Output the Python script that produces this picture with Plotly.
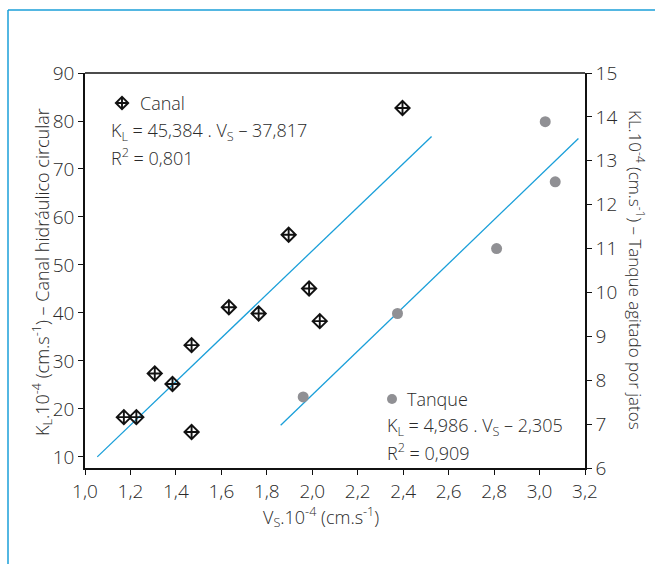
import plotly.graph_objects as go

# Canal hidráulico circular (left axis)
canal_vs = [1.171, 1.226, 1.307, 1.385, 1.469, 1.469, 1.633, 1.764, 1.896, 1.986, 2.033, 2.397]
canal_kl = [18.3, 18.3, 27.4, 25.2, 33.3, 15.2, 41.2, 39.9, 56.3, 45.1, 38.3, 82.7]
# Tanque agitado por jatos (right axis)
tanque_vs = [1.960, 2.375, 2.811, 3.025, 3.069]
tanque_kl = [7.62, 9.52, 11.0, 13.89, 12.52]

# Fit lines (from equations shown on chart)
canal_fit = (45.384, -37.817)
canal_fit_x = [1.054, 2.525]
tanque_fit = (4.986, -2.305)
tanque_fit_x = [1.861, 3.171]

FONT = "Open Sans"
TXT = "#2a2a2a"
BLUE = "#1a9fd9"

fig = go.Figure()
fig.add_trace(go.Scatter(
    x=canal_fit_x, y=[canal_fit[0] * v + canal_fit[1] for v in canal_fit_x],
    mode="lines", line=dict(color=BLUE, width=1.3), showlegend=False, yaxis="y"))
fig.add_trace(go.Scatter(
    x=tanque_fit_x, y=[tanque_fit[0] * v + tanque_fit[1] for v in tanque_fit_x],
    mode="lines", line=dict(color=BLUE, width=1.3), showlegend=False, yaxis="y2"))
fig.add_trace(go.Scatter(
    x=canal_vs, y=canal_kl, mode="markers", name="Canal",
    marker=dict(symbol="diamond-cross-open", size=11, color="#111111",
                line=dict(width=1.9, color="#111111")),
    showlegend=False, yaxis="y"))
fig.add_trace(go.Scatter(
    x=tanque_vs, y=tanque_kl, mode="markers", name="Tanque",
    marker=dict(symbol="circle", size=11, color="#909094"),
    showlegend=False, yaxis="y2"))

L, R, T, B = 85, 70, 73, 96
W, H = 655, 564
pw, ph = W - L - R, H - T - B


def px(xp):
    return (xp - L) / pw


def py(yp):
    return (H - B - yp) / ph


ax_common = dict(
    showgrid=False, zeroline=False, showline=True, linecolor="#111111", linewidth=1.5,
    ticks="outside", ticklen=5, tickwidth=1.2, tickcolor="#111111",
    tickfont=dict(family=FONT, size=19, color=TXT, weight=300),
)

fig.update_layout(
    width=W, height=H,
    margin=dict(l=L, r=R, t=T, b=B),
    paper_bgcolor="white", plot_bgcolor="white",
    font=dict(family=FONT, color=TXT, weight=300),
    xaxis=dict(range=[1.0, 3.2], tickvals=[1.0 + 0.2 * i for i in range(12)],
               ticktext=["1,0", "1,2", "1,4", "1,6", "1,8", "2,0", "2,2", "2,4", "2,6", "2,8", "3,0", "3,2"],
               mirror=False, **ax_common),
    yaxis=dict(range=[7.7, 90], tickvals=[10, 20, 30, 40, 50, 60, 70, 80, 90], **ax_common),
    yaxis2=dict(range=[6, 15], tickvals=list(range(6, 16)), overlaying="y", side="right",
                anchor="x", **ax_common),
    showlegend=False,
)

# top border of plot area
fig.add_shape(type="line", xref="paper", yref="paper", x0=0, x1=1, y0=1, y1=1,
              line=dict(color="#111111", width=1.5))

# outer blue frame
fig.add_shape(type="line", xref="paper", yref="paper", x0=px(8), x1=px(8), y0=py(10), y1=py(H + 5),
              line=dict(color=BLUE, width=1.5))
fig.add_shape(type="line", xref="paper", yref="paper", x0=px(8), x1=px(W + 5), y0=py(10), y1=py(10),
              line=dict(color=BLUE, width=1.5))

ann_font = dict(family=FONT, size=18, color=TXT, weight=300)
title_font = dict(family=FONT, size=18, color=TXT, weight=300)

# axis titles
fig.add_annotation(xref="paper", yref="paper", x=px(321), y=py(517),
                   text="V<sub>S</sub>.10<sup>-4</sup> (cm.s<sup>-1</sup>)",
                   showarrow=False, font=title_font, xanchor="center", yanchor="middle")
fig.add_annotation(xref="paper", yref="paper", x=px(42), y=py(272),
                   text="K<sub>L</sub>.10<sup>-4</sup> (cm.s<sup>-1</sup>) – Canal hidráulico circular",
                   showarrow=False, font=title_font, textangle=-90, xanchor="center", yanchor="middle")
fig.add_annotation(xref="paper", yref="paper", x=px(637), y=py(270),
                   text="KL.10<sup>-4</sup> (cm.s<sup>-1</sup>) – Tanque agitado por jatos",
                   showarrow=False, font=dict(family=FONT, size=17, color=TXT, weight=300),
                   textangle=90, xanchor="center", yanchor="middle")

# legend-like labels: Canal
fig.add_trace(go.Scatter(
    x=[1.0 + (122 - L) / pw * 2.2], y=[15 - (103 - T) / ph * 9], mode="markers",
    marker=dict(symbol="diamond-cross-open", size=9.5, color="#111111", line=dict(width=1.9, color="#111111")),
    yaxis="y2", showlegend=False, hoverinfo="skip", cliponaxis=False))
fig.add_annotation(xref="paper", yref="paper", x=px(138), y=py(103), text="Canal",
                   showarrow=False, font=ann_font, xanchor="left", yanchor="middle")
fig.add_annotation(xref="paper", yref="paper", x=px(109), y=py(131),
                   text="K<sub>L</sub> = 45,384 . V<sub>S</sub> – 37,817",
                   showarrow=False, font=ann_font, xanchor="left", yanchor="middle")
fig.add_annotation(xref="paper", yref="paper", x=px(109), y=py(157),
                   text="R<sup>2</sup> = 0,801",
                   showarrow=False, font=ann_font, xanchor="left", yanchor="middle")

# Tanque
fig.add_trace(go.Scatter(
    x=[1.0 + (392 - L) / pw * 2.2], y=[15 - (399 - T) / ph * 9], mode="markers",
    marker=dict(symbol="circle", size=10, color="#909094"),
    yaxis="y2", showlegend=False, hoverinfo="skip", cliponaxis=False))
fig.add_annotation(xref="paper", yref="paper", x=px(405), y=py(399), text="Tanque",
                   showarrow=False, font=ann_font, xanchor="left", yanchor="middle")
fig.add_annotation(xref="paper", yref="paper", x=px(385), y=py(426),
                   text="K<sub>L</sub> = 4,986 . V<sub>S</sub> – 2,305",
                   showarrow=False, font=ann_font, xanchor="left", yanchor="middle")
fig.add_annotation(xref="paper", yref="paper", x=px(385), y=py(452),
                   text="R<sup>2</sup> = 0,909",
                   showarrow=False, font=ann_font, xanchor="left", yanchor="middle")

fig.write_html("out.html")
